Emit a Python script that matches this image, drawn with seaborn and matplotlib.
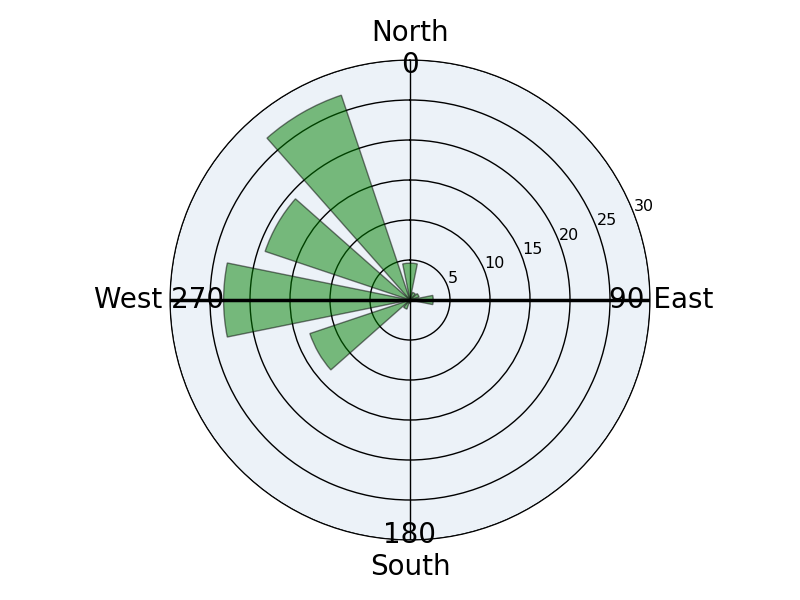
import numpy as np
import matplotlib
matplotlib.use("Agg")
import matplotlib.pyplot as plt
import seaborn as sns

# wind-rose style data: direction bins (degrees) and counts
directions = [0, 30, 60, 90, 120, 150, 180, 210, 240, 270, 300, 330]
counts = [4.6, 1.0, 1.2, 2.9, 0.0, 0.0, 0.4, 1.2, 13.2, 23.3, 19.1, 27.0]
radial_ticks = [5, 10, 15, 20, 25, 30]
theta_ticks = [0, 90, 180, 270]
theta_labels = ["North\n0", "90 East", "180\nSouth", "West 270"]

sns.set_style("white")
plt.rcParams["font.family"] = ["DejaVu Sans"]
plt.rcParams["text.color"] = "k"
plt.rcParams["xtick.color"] = "k"
plt.rcParams["ytick.color"] = "k"

fig = plt.figure(figsize=(8, 6), dpi=100)
ax = fig.add_axes([0.2125, 0.1, 0.6, 0.8], projection="polar")
ax.set_theta_zero_location("N")
ax.set_theta_direction(-1)
ax.set_facecolor("#ecf2f8")

ax.bar(np.deg2rad(directions), counts, width=0.4, color="green",
       alpha=0.5, edgecolor="k", linewidth=1)

# thick east-west line through the centre
ax.plot([np.pi / 2, 0, 3 * np.pi / 2], [30, 0, 30], color="k", lw=2.5)

ax.set_ylim(0, 30)
ax.set_yticks(radial_ticks)
ax.set_yticklabels([str(t) for t in radial_ticks], fontsize=11.5)
ax.set_rlabel_position(69)
ax.set_thetagrids(theta_ticks, labels=theta_labels, fontsize=20)
ax.tick_params(axis="x", pad=-2.5)
ax.grid(True, color="k", lw=1)
ax.spines["polar"].set_color("k")

plt.savefig("out.png", dpi=100)
plt.close()
